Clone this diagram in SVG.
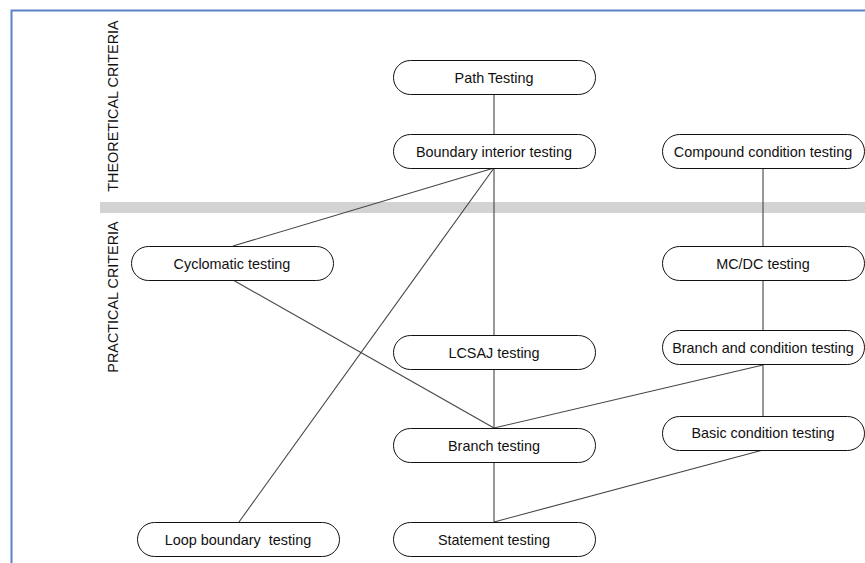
<svg xmlns="http://www.w3.org/2000/svg" width="865" height="563" viewBox="0 0 865 563">
<style>
.node rect{fill:#fff;stroke:#111;stroke-width:1}
.node text{font-family:"Liberation Sans",Arial,sans-serif;font-size:14.4px;fill:#111;text-anchor:middle}
.edges line{stroke:#444;stroke-width:1.1}
.axis{font-family:"Liberation Sans",Arial,sans-serif;font-size:14.4px;fill:#111;text-anchor:middle}
</style>
<rect width="865" height="563" fill="#fff"/>
<path d="M11.5 563 V10.5 H865" fill="none" stroke="#5b84c4" stroke-width="2"/>
<rect x="100" y="202" width="765" height="11" fill="#d3d3d3"/>
<text class="axis" transform="translate(118,106) rotate(-90)">THEORETICAL CRITERIA</text>
<text class="axis" transform="translate(118,297) rotate(-90)">PRACTICAL CRITERIA</text>
<g class="edges">
<line x1="494" y1="94" x2="494" y2="134"/>
<line x1="494" y1="168" x2="494" y2="335"/>
<line x1="494" y1="168" x2="233" y2="246"/>
<line x1="494" y1="168" x2="239" y2="522"/>
<line x1="233" y1="280" x2="494" y2="428"/>
<line x1="763" y1="365" x2="494" y2="428"/>
<line x1="494" y1="369" x2="494" y2="428"/>
<line x1="763" y1="168" x2="763" y2="246"/>
<line x1="763" y1="280" x2="763" y2="330"/>
<line x1="763" y1="365" x2="763" y2="416"/>
<line x1="763" y1="450" x2="494" y2="522"/>
<line x1="494" y1="463" x2="494" y2="522"/>
</g>
<g id="path-testing" class="node"><rect x="393.5" y="60.5" width="202" height="34" rx="17"/><text x="494" y="82.5">Path Testing</text></g>
<g id="boundary-interior" class="node"><rect x="393.5" y="134.5" width="202" height="34" rx="17"/><text x="494" y="156.5">Boundary interior testing</text></g>
<g id="compound-condition" class="node"><rect x="662.5" y="134.5" width="202" height="34" rx="17"/><text x="763" y="156.5">Compound condition testing</text></g>
<g id="cyclomatic" class="node"><rect x="131.5" y="246.5" width="202" height="34" rx="17"/><text x="232" y="268.5">Cyclomatic testing</text></g>
<g id="mcdc" class="node"><rect x="662.5" y="246.5" width="202" height="34" rx="17"/><text x="763" y="268.5">MC/DC testing</text></g>
<g id="lcsaj" class="node"><rect x="393.5" y="335.5" width="202" height="34" rx="17"/><text x="494" y="357.5">LCSAJ testing</text></g>
<g id="branch-condition" class="node"><rect x="662.5" y="330.5" width="202" height="34" rx="17"/><text x="763" y="352.5">Branch and condition testing</text></g>
<g id="branch" class="node"><rect x="393.5" y="428.5" width="202" height="34" rx="17"/><text x="494" y="450.5">Branch testing</text></g>
<g id="basic-condition" class="node"><rect x="662.5" y="416.5" width="202" height="34" rx="17"/><text x="763" y="437.5">Basic condition testing</text></g>
<g id="loop-boundary" class="node"><rect x="137.5" y="522.5" width="202" height="34" rx="17"/><text x="238" y="544.5" xml:space="preserve">Loop boundary  testing</text></g>
<g id="statement" class="node"><rect x="393.5" y="522.5" width="202" height="34" rx="17"/><text x="494" y="544.5">Statement testing</text></g>
</svg>
